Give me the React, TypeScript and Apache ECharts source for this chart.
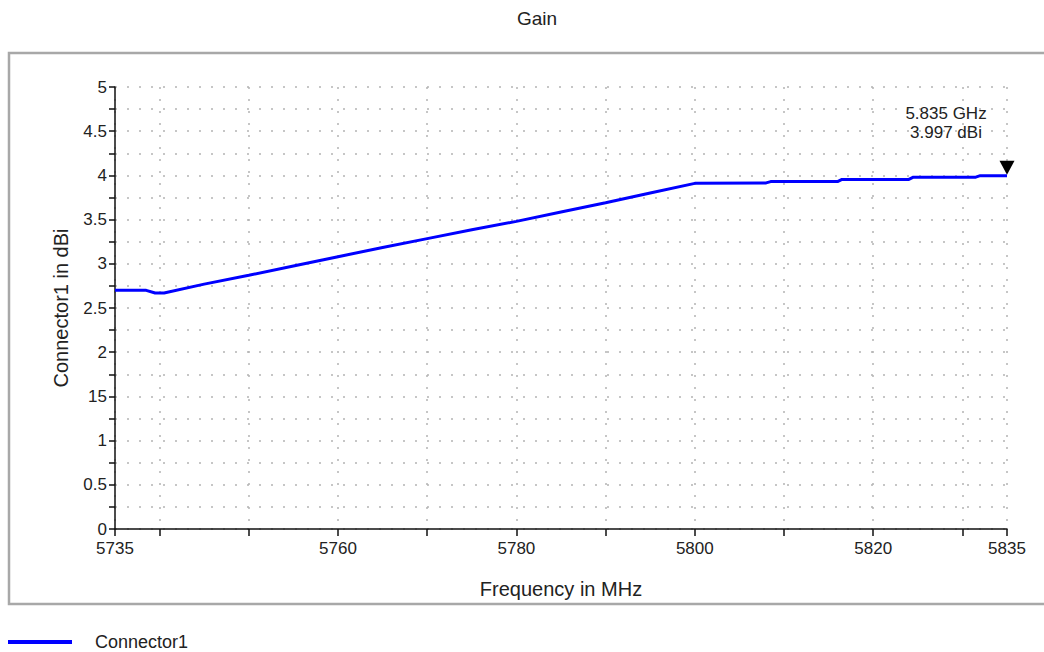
import React, { useEffect, useRef } from "react";
import * as echarts from "echarts";

const freqMHz = [5735, 5738.5, 5739.5, 5740.5, 5745, 5750, 5755, 5760, 5765, 5770, 5775, 5780, 5785, 5790, 5795, 5800, 5808, 5808.5, 5816, 5816.5, 5824, 5824.5, 5831.5, 5832, 5835];
const gainDBi = [2.70, 2.70, 2.67, 2.67, 2.77, 2.87, 2.975, 3.08, 3.185, 3.285, 3.385, 3.48, 3.585, 3.69, 3.80, 3.91, 3.915, 3.93, 3.93, 3.955, 3.955, 3.98, 3.98, 3.997, 3.997];
const xTickValues = [5735, 5740, 5750, 5760, 5770, 5780, 5790, 5800, 5810, 5820, 5830, 5835];
const xLabelValues = [5735, 5760, 5780, 5800, 5820, 5835];
const markerFreq = 5835;
const markerGain = 3.997;

export default function App() {
  const ref = useRef<HTMLDivElement>(null);
  useEffect(() => {
    if (!ref.current) return;
    const chart = echarts.init(ref.current, null, { renderer: "svg" });
    const font = "Liberation Sans, Arial, sans-serif";
    const dotted = { color: "#b4b4b4", type: [2, 10] as any, width: 1.5 };
    chart.setOption({
      animation: false,
      backgroundColor: "#ffffff",
      textStyle: { fontFamily: font },
      title: {
        text: "Gain",
        left: 532,
        top: 4,
        textAlign: "center",
        textStyle: { fontSize: 19, fontWeight: "normal", color: "#222", fontFamily: font },
      },
      graphic: [
        {
          type: "rect",
          shape: { x: 9, y: 53, width: 1045, height: 551 },
          style: { fill: "none", stroke: "#a8a8a8", lineWidth: 2.5 },
          silent: true,
          z: -1,
        },
      ],
      legend: {
        left: 8,
        top: 633,
        padding: 0,
        icon: "rect",
        itemWidth: 64,
        itemHeight: 4,
        textStyle: { fontSize: 18, color: "#222", fontFamily: font, padding: [0, 0, 0, 18] },
        data: ["Connector1"],
      },
      grid: { left: 115, top: 87, width: 892, height: 442 },
      xAxis: {
        type: "value",
        min: 5735,
        max: 5835,
        name: "Frequency in MHz",
        nameLocation: "middle",
        nameGap: 50,
        nameTextStyle: { fontSize: 20, color: "#222", fontFamily: font },
        axisLine: { show: true, lineStyle: { color: "#111", width: 1.5 } },
        axisTick: { show: true, customValues: xTickValues, length: 7, lineStyle: { color: "#111", width: 1.5 } },
        axisLabel: {
          customValues: xLabelValues,
          fontSize: 17,
          color: "#222",
          margin: 11,
          fontFamily: font,
          formatter: (v: number) => String(v),
        },
        splitLine: { show: true, lineStyle: dotted },
      },
      yAxis: {
        type: "value",
        min: 0,
        max: 5,
        interval: 0.5,
        name: "Connector1 in dBi",
        nameLocation: "middle",
        nameGap: 44,
        nameTextStyle: { fontSize: 20, color: "#222", fontFamily: font },
        axisLine: { show: true, lineStyle: { color: "#111", width: 1.5 } },
        axisTick: { show: true, length: 6, lineStyle: { color: "#111", width: 1.5 } },
        minorTick: { show: true, splitNumber: 2, length: 6, lineStyle: { color: "#111", width: 1.5 } },
        axisLabel: {
          fontSize: 17,
          color: "#222",
          margin: 8,
          fontFamily: font,
          formatter: (v: number) => (v === 1.5 ? "15" : String(v)),
        },
        splitLine: { show: true, lineStyle: dotted },
        minorSplitLine: { show: true, lineStyle: dotted },
      },
      series: [
        {
          name: "Connector1",
          type: "line",
          data: freqMHz.map((f, i) => [f, gainDBi[i]]),
          showSymbol: false,
          lineStyle: { color: "#0000ff", width: 3 },
          itemStyle: { color: "#0000ff" },
          z: 5,
          markPoint: {
            symbol: "triangle",
            symbolSize: [15, 14],
            symbolRotate: 180,
            symbolOffset: [0, -8],
            itemStyle: { color: "#000" },
            label: {
              show: true,
              position: "inside",
              offset: [-61, -45],
              formatter: "5.835 GHz\n3.997 dBi",
              fontSize: 17,
              lineHeight: 19,
              color: "#222",
              fontFamily: font,
              align: "center",
            },
            data: [{ coord: [markerFreq, markerGain] }],
          },
        },
      ],
    });
    return () => chart.dispose();
  }, []);
  return (
    <div
      ref={ref}
      style={{ position: "fixed", left: 0, top: 0, width: 1044, height: 652 }}
    />
  );
}
